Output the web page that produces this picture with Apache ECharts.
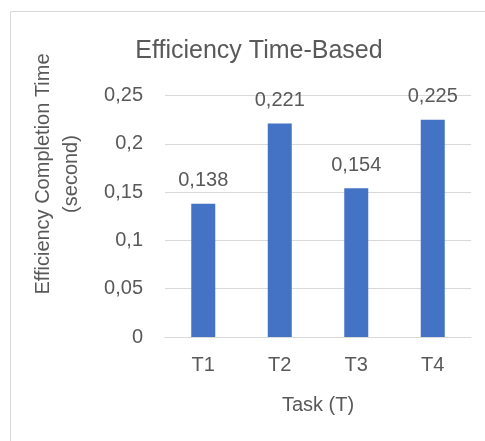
<!DOCTYPE html>
<html>
<head>
<meta charset="utf-8">
<script src="https://cdn.jsdelivr.net/npm/echarts@6/dist/echarts.min.js"></script>
<style>
  html, body { margin: 0; padding: 0; background: #fff; }
  #chart { width: 485px; height: 441px; }
</style>
</head>
<body>
<div id="chart"></div>
<script>
// 数据
const categories = ["T1", "T2", "T3", "T4"];
const efficiency = [0.138, 0.221, 0.154, 0.225];
const yTicks = [0, 0.05, 0.1, 0.15, 0.2, 0.25];

const TEXT = "#595959";
const GRID = "#d9d9d9";
const BAR = "#4472c4";
const FONT = "'Liberation Sans', Arial, sans-serif";

// 小数用逗号
function comma(v) {
  return String(v).replace(".", ",");
}

const chart = echarts.init(document.getElementById("chart"), null, { renderer: "canvas" });
chart.setOption({
  animation: false,
  textStyle: { fontFamily: FONT, color: TEXT },
  title: {
    text: "Efficiency Time-Based",
    left: 254,
    top: 34,
    textAlign: "center",
    textStyle: { fontFamily: FONT, fontSize: 25, fontWeight: "normal", color: TEXT },
  },
  graphic: [
    {
      type: "rect",
      shape: { x: 10.5, y: 11.5, width: 490, height: 450 },
      style: { fill: "none", stroke: GRID, lineWidth: 1 },
      silent: true,
    },
    {
      type: "text",
      x: 57,
      y: 174,
      rotation: Math.PI / 2,
      style: {
        text: "Efficiency Completion Time\n(second)",
        font: "20px " + FONT,
        fill: TEXT,
        align: "center",
        verticalAlign: "middle",
        lineHeight: 28,
      },
    },
  ],
  grid: { left: 165, right: 14, top: 95.5, bottom: 104, containLabel: false },
  xAxis: {
    type: "category",
    data: categories,
    name: "Task (T)",
    nameLocation: "middle",
    nameGap: 58,
    nameTextStyle: { fontSize: 20, color: TEXT, fontFamily: FONT },
    axisLine: { show: true, lineStyle: { color: GRID, width: 1 } },
    axisTick: { show: false },
    axisLabel: { fontSize: 20, color: TEXT, margin: 18, fontFamily: FONT },
  },
  yAxis: {
    type: "value",
    min: yTicks[0],
    max: yTicks[yTicks.length - 1],
    interval: 0.05,
    axisLine: { show: false },
    axisTick: { show: false },
    splitLine: { lineStyle: { color: GRID, width: 1 } },
    axisLabel: {
      fontSize: 20,
      color: TEXT,
      margin: 22,
      fontFamily: FONT,
      formatter: function (v) { return comma(Math.round(v * 100) / 100); },
    },
  },
  series: [
    {
      type: "bar",
      data: efficiency,
      barWidth: 24,
      itemStyle: { color: BAR },
      label: {
        show: true,
        position: "top",
        distance: 13,
        fontSize: 20,
        color: TEXT,
        fontFamily: FONT,
        formatter: function (p) { return comma(p.value); },
      },
    },
  ],
});
</script>
</body>
</html>
